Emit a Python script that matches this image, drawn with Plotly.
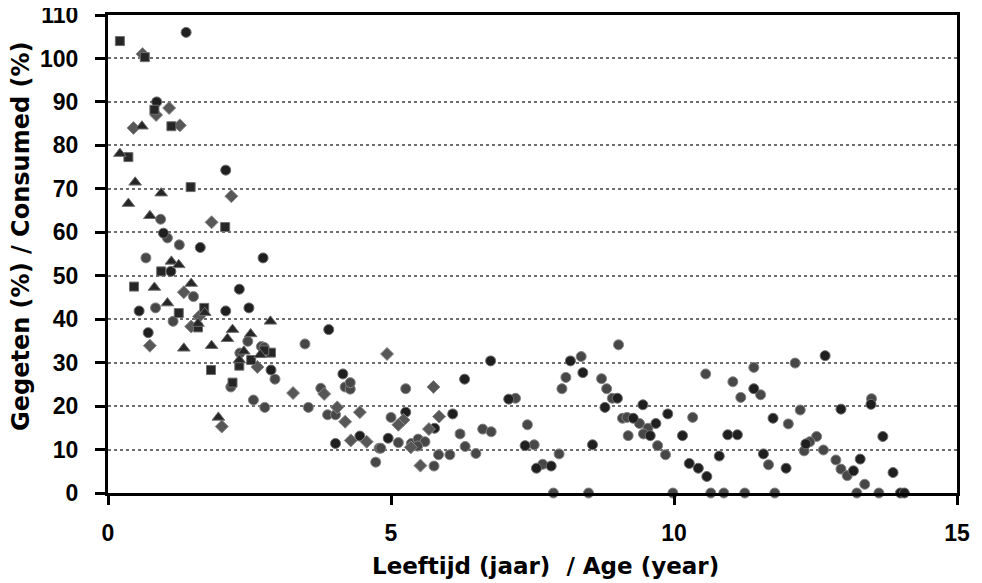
import plotly.graph_objects as go

# ---- data ----
square_age = [0.21, 0.65, 0.82, 1.12, 0.36, 1.46, 2.07, 0.94, 0.46, 1.25, 1.70, 1.59,
              2.53, 2.88, 2.76, 2.32, 1.82, 2.20]
square_pct = [104.0, 100.3, 88.2, 84.4, 77.3, 70.4, 61.2, 51.0, 47.5, 41.4, 42.6, 38.1,
              30.6, 32.3, 32.8, 29.3, 28.3, 25.4]

triangle_age = [0.60, 0.21, 0.48, 0.94, 0.36, 0.74, 1.12, 1.25, 0.82, 1.47, 1.05, 1.71,
                1.59, 2.87, 2.20, 2.52, 2.11, 1.34, 1.83, 2.40, 2.69, 2.32, 1.95]
triangle_pct = [84.4, 78.1, 71.5, 69.0, 66.6, 63.8, 53.3, 52.5, 47.3, 48.2, 43.7, 41.5,
                39.0, 39.5, 37.6, 36.6, 35.5, 33.3, 33.9, 32.6, 31.8, 30.6, 17.4]

diamond_age = [0.61, 0.85, 1.08, 0.45, 1.27, 2.18, 1.83, 1.34, 1.61, 1.47, 0.74, 2.64,
               3.27, 3.82, 4.05, 4.45, 4.19, 2.01, 4.29, 4.57, 4.93, 5.75, 5.22, 5.13,
               5.85, 5.67, 5.35, 5.52]
diamond_pct = [101.0, 87.0, 88.6, 84.0, 84.6, 68.3, 62.3, 46.2, 40.6, 38.3, 33.9, 29.0,
               23.0, 22.8, 19.7, 18.6, 16.4, 15.3, 12.1, 11.8, 32.0, 24.4, 16.8, 15.7,
               17.6, 14.7, 10.5, 6.3]

dark_circle_age = [1.38, 0.86, 2.08, 0.98, 1.63, 2.74, 1.11, 2.32, 0.55, 2.08, 2.49, 0.71,
                   2.88, 3.90, 4.15, 6.76, 6.30, 5.26, 4.95, 5.77, 6.09, 7.08, 7.37, 7.57,
                   7.83, 8.39, 8.17, 4.02, 4.45, 9.00, 8.78, 8.56, 9.45, 9.89, 10.15, 10.27,
                   10.43, 10.58, 10.80, 10.95, 11.12, 11.41, 11.75, 11.98, 11.58, 9.58, 9.68,
                   9.28, 12.67, 12.95, 13.48, 13.69, 12.33, 13.17, 13.29, 13.87, 14.00, 14.07]
dark_circle_pct = [106.0, 90.0, 74.3, 59.8, 56.5, 54.1, 51.0, 46.9, 41.9, 41.9, 42.6, 36.9,
                   28.3, 37.6, 27.4, 30.4, 26.2, 18.6, 12.6, 14.9, 18.2, 21.6, 10.9, 5.7,
                   6.2, 27.7, 30.4, 11.4, 13.1, 21.8, 19.7, 11.1, 20.3, 18.2, 13.2, 6.8,
                   5.7, 3.8, 8.5, 13.4, 13.4, 24.0, 17.2, 5.7, 9.0, 13.2, 16.0,
                   17.2, 31.6, 19.3, 20.4, 13.0, 11.3, 5.1, 7.8, 4.7, 0.0, 0.0]

grey_circle_age = [0.93, 1.05, 1.26, 0.67, 1.51, 0.84, 1.15, 2.47, 2.71, 2.76, 2.33, 2.95,
                   2.17, 2.57, 2.77, 3.48, 3.76, 4.19, 4.28, 4.28, 3.54, 3.88, 4.02, 4.79,
                   4.73, 5.26, 5.00, 5.13, 4.82, 5.36, 5.48, 5.60, 5.47, 6.22, 6.62, 6.77,
                   6.31, 6.50, 5.84, 6.04, 5.76, 7.41, 7.53, 7.68, 7.97, 8.36, 8.09, 8.02,
                   7.20, 7.87, 8.49, 9.02, 8.72, 8.81, 8.91, 9.09, 9.17, 9.39, 9.54, 9.46,
                   9.19, 9.71, 9.85, 10.33, 10.56, 11.04, 11.18, 11.41, 11.53, 12.02, 11.67,
                   9.98, 10.65, 10.88, 11.25, 11.78, 12.14, 12.23, 13.49, 12.52, 12.40, 12.30,
                   12.64, 12.86, 12.95, 13.06, 13.37, 13.23, 13.62]
grey_circle_pct = [63.0, 58.7, 57.1, 54.1, 45.2, 42.6, 39.5, 34.9, 33.7, 33.5, 32.2, 26.2,
                   24.4, 21.4, 19.7, 34.3, 24.1, 24.4, 23.9, 25.4, 19.7, 18.0, 18.0, 10.3,
                   7.1, 24.0, 17.4, 11.6, 10.3, 11.4, 12.4, 11.8, 10.8, 13.6, 14.7, 14.1,
                   10.7, 9.1, 8.8, 8.8, 6.2, 15.7, 11.1, 6.6, 9.0, 31.4, 26.6, 24.0,
                   21.8, 0.0, 0.0, 34.1, 26.3, 24.0, 21.8, 17.2, 17.4, 16.0, 14.9, 13.6,
                   13.2, 10.9, 8.8, 17.4, 27.4, 25.6, 22.0, 28.9, 22.6, 15.9, 6.5,
                   0.0, 0.0, 0.0, 0.0, 0.0, 29.9, 19.1, 21.7, 13.0, 11.8, 9.7,
                   9.9, 7.6, 5.5, 4.0, 2.0, 0.0, 0.0]

x_ticks = [0, 5, 10, 15]
y_ticks = list(range(0, 111, 10))
x_title = "Leeftijd (jaar) \u00a0/ Age (year)"
y_title = "Gegeten (%) / Consumed (%)"

fig = go.Figure()

def add(xs, ys, symbol, size, fill, edge):
    fig.add_trace(go.Scatter(
        x=xs, y=ys, mode="markers", cliponaxis=False, showlegend=False,
        marker=dict(symbol=symbol, size=size, color=fill,
                    line=dict(color=edge, width=1))))

add(grey_circle_age, grey_circle_pct, "circle", 10, "#474747", "#858585")
add(dark_circle_age, dark_circle_pct, "circle", 10, "#1f1f1f", "#6e6e6e")
add(diamond_age, diamond_pct, "diamond", 10, "#575757", "#8a8a8a")
add(square_age, square_pct, "square", 9, "#262626", "#6e6e6e")
add(triangle_age, triangle_pct, "triangle-up", 11, "#262626", "#6e6e6e")

tick_font = dict(family="Liberation Sans, Arial", size=23, color="black", weight="bold")
xt_font = dict(family="DejaVu Sans", size=23, color="black", weight="bold")
yt_font = dict(family="DejaVu Sans", size=24, color="black", weight="bold")

# the page body adds an 8px offset, so the figure is 8px smaller each way
W, H = 974, 575
L, R, T, B = 100, 25, 7, 90
PW, PH = W - L - R, H - T - B   # 849 x 478 plot area

fig.update_layout(
    width=W, height=H,
    margin=dict(l=L, r=R, t=T, b=B),
    paper_bgcolor="white", plot_bgcolor="white",
    xaxis=dict(range=[0, 15], tickvals=x_ticks, ticktext=[str(v) for v in x_ticks],
               showgrid=False, zeroline=False, showline=True, linecolor="black",
               linewidth=3, mirror=True, ticks="outside", ticklen=9, tickwidth=2.5,
               tickcolor="black", tickfont=tick_font, ticklabelstandoff=8,
               automargin=False, ticklabeloverflow="allow"),
    yaxis=dict(range=[0, 110], tickvals=y_ticks, ticktext=[str(v) for v in y_ticks],
               showgrid=True, gridcolor="#6e6e6e", gridwidth=1.5, griddash="3px,3px",
               zeroline=False, showline=True, linecolor="black",
               linewidth=3, mirror=True, ticks="outside", ticklen=10, tickwidth=2.5,
               tickcolor="black", tickfont=tick_font, ticklabelstandoff=12,
               automargin=False, ticklabeloverflow="allow"),
    annotations=[
        dict(text=x_title, xref="paper", yref="paper", x=(545 - 108) / PW,
             y=-(566 - 493) / PH, xanchor="center", yanchor="middle",
             showarrow=False, font=xt_font),
        dict(text=y_title, xref="paper", yref="paper", x=-(108 - 21) / PW,
             y=(493 - 237) / PH, xanchor="center", yanchor="middle", textangle=-90,
             showarrow=False, font=yt_font),
    ],
)

fig.write_html("out.html")
